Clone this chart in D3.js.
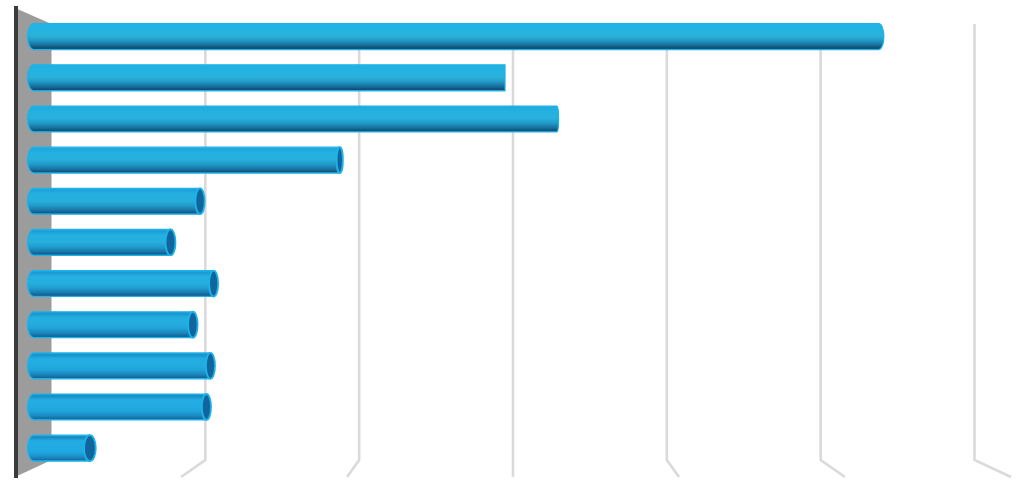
<!DOCTYPE html>
<html>
<head>
<meta charset="utf-8">
<script src="https://cdn.jsdelivr.net/npm/d3@7"></script>
<style>
html, body { margin: 0; padding: 0; background: #fff; overflow: hidden; }
</style>
</head>
<body>
<div id="chart"></div>
<script>
// the picture has no labels, so categories are just row numbers
var categories = ["1", "2", "3", "4", "5", "6", "7", "8", "9", "10", "11"];
var values = [5.29, 2.95, 3.275, 1.915, 1.04, 0.855, 1.125, 0.995, 1.105, 1.08, 0.35];
var gridTicks = [1, 2, 3, 4, 5, 6];

var svgWidth = 1024;
var svgHeight = 484;

var svg = d3.select("#chart")
  .append("svg")
  .attr("width", svgWidth)
  .attr("height", svgHeight)
  .style("display", "block");

// perspective: back wall, bar plane and front floor edge share one vanishing x
var vanishX = 513.5;
var xBack = d3.scaleLinear().domain([0, 6]).range([51.5, 974.5]);
var xFront = d3.scaleLinear().domain([0, 6]).range([15, 1011]);
var xBar = d3.scaleLinear().domain([0, 6]).range([34, 992]);

var backTop = 24;
var backBottom = 460;
var frontTop = 8;
var frontBottom = 477;

var y = d3.scaleBand()
  .domain(categories)
  .range([16.1, 468.7])
  .paddingInner(0.37)
  .paddingOuter(0.185);

var rows = categories.map(function(c, i) {
  return { category: c, value: values[i], index: i };
});

// the shading shifts with height: top rows show the underside, low rows the top
var stopOffsets = ["0%", "8%", "22%", "48%", "66%", "84%", "95%", "100%"];
var shadeTop = ["#1fb6ea", "#22b4e6", "#24b3e2", "#2ab2d8", "#2196c2", "#176a96", "#10486e", "#1a7fb0"];
var shadeLow = ["#1a9fd8", "#1788c2", "#23ace2", "#21abe2", "#1fa6de", "#1b8cc6", "#156fa6", "#1cb0e8"];

var defs = svg.append("defs");
rows.forEach(function(r) {
  var grad = defs.append("linearGradient")
    .attr("id", "barGrad" + r.index)
    .attr("x1", 0).attr("y1", 0).attr("x2", 0).attr("y2", 1);
  stopOffsets.forEach(function(off, k) {
    grad.append("stop")
      .attr("offset", off)
      .attr("stop-color", d3.interpolateRgb(shadeTop[k], shadeLow[k])(r.index / (rows.length - 1)));
  });
});

// grid lines, running along the back wall then out over the floor
svg.selectAll(".grid")
  .data(gridTicks)
  .enter()
  .append("path")
  .attr("class", "grid")
  .attr("fill", "none")
  .attr("stroke", "#dadada")
  .attr("stroke-width", 2.6)
  .attr("d", d => `M${xBack(d)},${backTop}L${xBack(d)},${backBottom}L${xFront(d)},${frontBottom}`);

// left wall
svg.append("path")
  .attr("fill", "#9c9c9c")
  .attr("d", `M${xFront(0)},${frontTop}L${xBack(0)},${backTop}L${xBack(0)},${backBottom}L${xFront(0)},${frontBottom}Z`);

svg.append("line")
  .attr("x1", xFront(0) + 1).attr("x2", xFront(0) + 1)
  .attr("y1", 6).attr("y2", 478)
  .attr("stroke", "#3b3b3b")
  .attr("stroke-width", 4);

function capWidth(x) {
  return Math.abs(vanishX - x) * 0.011 + 1.2;
}

function barPath(d) {
  var x0 = xBar(0);
  var x1 = xBar(d.value);
  var top = y(d.category);
  var bottom = top + y.bandwidth();
  var ry = y.bandwidth() / 2;
  var path = `M${x0},${top}A${capWidth(x0)},${ry} 0 0 0 ${x0},${bottom}L${x1},${bottom}`;
  if (x1 > vanishX) {
    // past the vanishing point the end bulges, no cap face shows
    path += `A${capWidth(x1)},${ry} 0 0 0 ${x1},${top}`;
  } else {
    path += `L${x1},${top}`;
  }
  return path + "Z";
}

var bars = svg.selectAll(".bar")
  .data(rows)
  .enter()
  .append("g")
  .attr("class", "bar");

bars.append("path")
  .attr("d", barPath)
  .attr("fill", d => `url(#barGrad${d.index})`)
  .attr("stroke", "#1cb3ea")
  .attr("stroke-width", 1.2);

// cap face only on the bars that stop short of the vanishing point
bars.filter(d => xBar(d.value) < vanishX - 20)
  .append("ellipse")
  .attr("cx", d => xBar(d.value))
  .attr("cy", d => y(d.category) + y.bandwidth() / 2)
  .attr("rx", d => capWidth(xBar(d.value)))
  .attr("ry", y.bandwidth() / 2)
  .attr("fill", "#10659c")
  .attr("stroke", "#1cb3ea")
  .attr("stroke-width", 1.8);
</script>
</body>
</html>
